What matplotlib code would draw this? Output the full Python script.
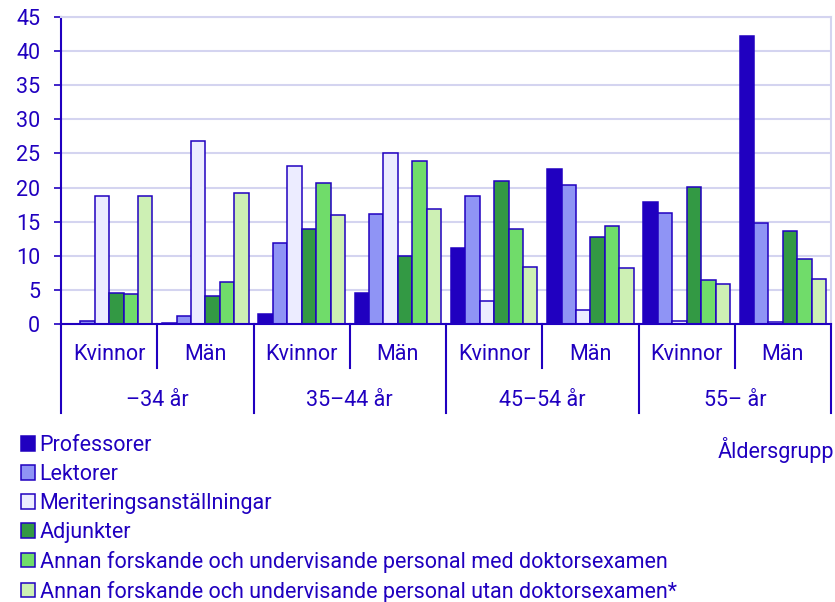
import matplotlib.pyplot as plt
from matplotlib.patches import Patch
import numpy as np

plt.rcParams['font.family'] = ['Roboto', 'DejaVu Sans']

# data
age_groups = ['–34 år', '35–44 år', '45–54 år', '55– år']
sexes = ['Kvinnor', 'Män']
series_names = [
    'Professorer',
    'Lektorer',
    'Meriteringsanställningar',
    'Adjunkter',
    'Annan forskande och undervisande personal med doktorsexamen',
    'Annan forskande och undervisande personal utan doktorsexamen*',
]
professorer = [0.0, 0.1, 1.5, 4.5, 11.2, 22.7, 17.9, 42.2]
lektorer = [0.5, 1.1, 11.8, 16.1, 18.7, 20.4, 16.2, 14.8]
meritering = [18.7, 26.8, 23.1, 25.0, 3.3, 2.0, 0.5, 0.25]
adjunkter = [4.5, 4.1, 13.9, 9.9, 20.9, 12.7, 20.1, 13.6]
med_dr = [4.4, 6.2, 20.7, 23.9, 13.9, 14.3, 6.4, 9.6]
utan_dr = [18.7, 19.2, 16.0, 16.8, 8.4, 8.2, 5.9, 6.6]

colors = ['#2000c0', '#8f94f5', '#ececff', '#339944', '#70dc6a', '#cdf0b4']
blue = '#2000c0'
grid_col = '#d4d4f0'
fs = 15.5

fig = plt.figure(figsize=(8.35, 6.02), dpi=100)
ax = fig.add_axes([61/835, 1-324/602, 770/835, 307/602])

all_series = [professorer, lektorer, meritering, adjunkter, med_dr, utan_dr]
x = np.arange(len(professorer))
w = 0.15
for i, vals in enumerate(all_series):
    ax.bar(x + (i - 2.5) * w, vals, w, color=colors[i], edgecolor=blue,
           linewidth=1.1, zorder=3)

ax.set_xlim(-0.5, len(x) - 0.5)
ax.set_ylim(0, 45)
ax.set_yticks(np.arange(0, 46, 5))
ax.yaxis.grid(True, color=grid_col, linewidth=1.5, zorder=0)
ax.set_axisbelow(True)
ax.tick_params(axis='y', colors=blue, labelsize=fs, length=5, width=1.2, pad=10)
ax.tick_params(axis='x', bottom=False, labelbottom=False)
ax.spines['left'].set_color(blue)
ax.spines['left'].set_linewidth(1.5)
ax.spines['bottom'].set_color(blue)
ax.spines['bottom'].set_linewidth(1.5)
ax.spines['bottom'].set_zorder(4)
ax.spines['top'].set_color(grid_col)
ax.spines['top'].set_linewidth(1.5)
ax.spines['right'].set_color(grid_col)
ax.spines['right'].set_linewidth(1.5)

# two level category axis
tr = ax.get_xaxis_transform()
for k in range(len(x) + 1):
    bottom = -0.29 if k % 2 == 0 else -0.143
    ax.plot([k - 0.5, k - 0.5], [0, bottom], color=blue, lw=1.5,
            transform=tr, clip_on=False)
for k in range(len(x)):
    ax.text(k, -0.1, sexes[k % 2], transform=tr, ha='center', va='center',
            color=blue, fontsize=fs)
for g, name in enumerate(age_groups):
    ax.text(2 * g + 0.5, -0.25, name, transform=tr, ha='center', va='center',
            color=blue, fontsize=fs)

fig.text(834/835, 1-450/602, 'Åldersgrupp', ha='right', va='center',
         color=blue, fontsize=fs)

handles = [Patch(facecolor=c, edgecolor=blue, linewidth=1.1) for c in colors]
leg = fig.legend(handles, series_names, loc='upper left',
                 bbox_to_anchor=(21/835, 1-435/602), frameon=False,
                 fontsize=fs, handlelength=0.65, handleheight=0.65,
                 handletextpad=0.22, labelspacing=0.37, borderpad=0,
                 borderaxespad=0)
for t in leg.get_texts():
    t.set_color(blue)

fig.savefig('out.png', dpi=100)
